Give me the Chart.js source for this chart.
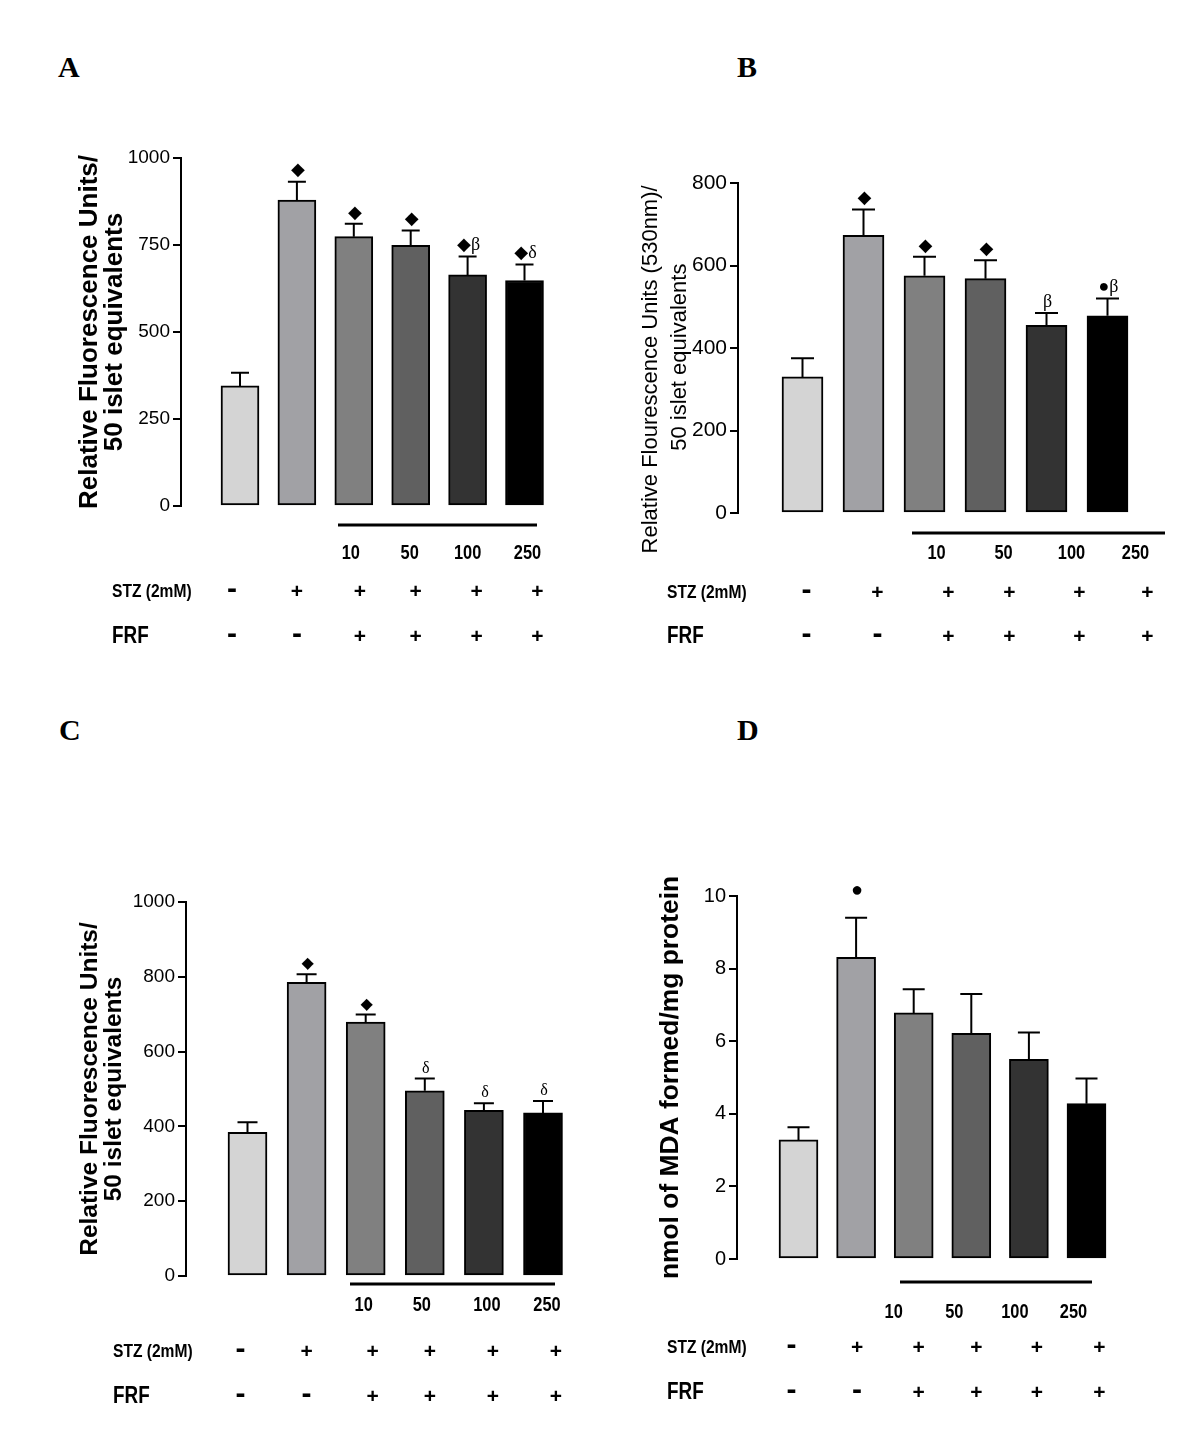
<!DOCTYPE html>
<html>
<head>
<meta charset="utf-8">
<script src="https://cdn.jsdelivr.net/npm/chart.js@4.4.1/dist/chart.umd.min.js"></script>
<style>
  html, body { margin: 0; padding: 0; background: #fff; }
  body { width: 1200px; height: 1432px; position: relative; overflow: hidden; }
  canvas { position: absolute; }
  .letter { position: absolute; font: bold 30px 'Liberation Serif', 'Times New Roman', serif; line-height: 30px; color: #000; }
</style>
</head>
<body>
<div class="letter" style="left:58px;top:52px">A</div>
<div class="letter" style="left:737px;top:52px">B</div>
<div class="letter" style="left:59px;top:715px">C</div>
<div class="letter" style="left:737px;top:715px">D</div>

<script>
// Data
const groups = ['Control', 'STZ', 'STZ+FRF 10', 'STZ+FRF 50', 'STZ+FRF 100', 'STZ+FRF 250'];
const doses = ['10', '50', '100', '250'];
const stzSigns = ['-', '+', '+', '+', '+', '+'];
const frfSigns = ['-', '-', '+', '+', '+', '+'];

const meanA = [345, 879, 774, 749, 664, 648];
const errA = [38, 53, 37, 43, 53, 46];
const sigA = ['', '◆', '◆', '◆', '◆β', '◆δ'];

const meanB = [330, 673, 575, 568, 455, 478];
const errB = [45, 63, 46, 45, 30, 42];
const sigB = ['', '◆', '◆', '◆', 'β', '●β'];

const meanC = [384, 785, 679, 495, 443, 436];
const errC = [27, 22, 20, 33, 19, 32];
const sigC = ['', '◆', '◆', 'δ', 'δ', 'δ'];

const meanD = [3.28, 8.31, 6.78, 6.22, 5.50, 4.28];
const errD = [0.35, 1.09, 0.65, 1.08, 0.74, 0.69];
const sigD = ['', '●', '', '', '', ''];

const barColors = ['#d4d4d4', '#a1a1a5', '#808080', '#606060', '#333333', '#000000'];

// Panel layout (page pixels)
const panels = [
  {
    id: 'A', mean: meanA, err: errA, sig: sigA, yMax: 1000, yStep: 250,
    title: ['Relative Fluorescence Units/', '50 islet equivalents'],
    titleFont: { family: 'Liberation Sans', size: 26, weight: 'bold', lineHeight: 0.96 },
    tickFont: { family: 'Liberation Sans', size: 19 },
    canvas: { left: 0, top: 120, w: 600, h: 540 },
    plot: { left: 181, top: 158, bottom: 506, right: 553 }, titleLeft: 77.5,
    c0: 240, sp: 56.9, barW: 38, cap: 18, sigGap: 11, sigSize: 18,
    underline: { x1: 338, x2: 537, y: 525 },
    rows: { labelX: 112, doseY: 553, stzY: 592, frfY: 637 },
    colDx: [-8, 0, 6, 5, 9, 13], doseDx: [-3, -1, 0, 3]
  },
  {
    id: 'B', mean: meanB, err: errB, sig: sigB, yMax: 800, yStep: 200,
    // trailing spaces push the centred title down, as in the original
    title: ['Relative Flourescence Units (530nm)/       ', '50 islet equivalents   '],
    titleFont: { family: 'Liberation Sans', size: 22, weight: 'normal', lineHeight: 1.32 },
    tickFont: { family: "'Liberation Sans Narrow', 'Liberation Sans'", size: 21 },
    canvas: { left: 600, top: 150, w: 600, h: 510 },
    plot: { left: 738, top: 183, bottom: 513, right: 1160 }, titleLeft: 636.5,
    c0: 802.5, sp: 61, barW: 41, cap: 23, sigGap: 11, sigSize: 18,
    underline: { x1: 912, x2: 1165, y: 533 },
    rows: { labelX: 667, doseY: 553, stzY: 593, frfY: 637 },
    colDx: [4, 14, 24, 24, 33, 40], doseDx: [12, 18, 25, 28]
  },
  {
    id: 'C', mean: meanC, err: errC, sig: sigC, yMax: 1000, yStep: 200,
    title: ['Relative Fluorescence Units/', '50 islet equivalents'],
    titleFont: { family: 'Liberation Sans', size: 24.5, weight: 'bold', lineHeight: 1.0 },
    tickFont: { family: 'Liberation Sans', size: 19 },
    canvas: { left: 0, top: 860, w: 600, h: 560 },
    plot: { left: 186, top: 902, bottom: 1276, right: 570 }, titleLeft: 77.75,
    c0: 247.5, sp: 59.1, barW: 39, cap: 20, sigGap: 10, sigSize: 16,
    underline: { x1: 350, x2: 555, y: 1284 },
    rows: { labelX: 113, doseY: 1305, stzY: 1352, frfY: 1397 },
    colDx: [-7, 0, 7, 5, 9, 13], doseDx: [-2, -3, 3, 4]
  },
  {
    id: 'D', mean: meanD, err: errD, sig: sigD, yMax: 10, yStep: 2,
    title: 'nmol of MDA formed/mg protein',
    titleFont: { family: 'Liberation Sans', size: 26.4, weight: 'bold', lineHeight: 1.2 },
    tickFont: { family: 'Liberation Sans', size: 20 },
    canvas: { left: 600, top: 850, w: 600, h: 570 },
    plot: { left: 737, top: 896, bottom: 1259, right: 1120 }, titleLeft: 655,
    c0: 798.5, sp: 57.6, barW: 39, cap: 22, sigGap: 27, sigSize: 20,
    underline: { x1: 900, x2: 1092, y: 1282 },
    rows: { labelX: 667, doseY: 1312, stzY: 1348, frfY: 1393 },
    colDx: [-7, 1, 5, 5, 8, 13], doseDx: [-20, -17, -14, -13]
  }
];

// condensed bold text, like the narrow face of the original
function narrowText(ctx, text, x, y, size, align) {
  ctx.save();
  ctx.font = `bold ${size}px 'Liberation Sans', Arial, sans-serif`;
  ctx.textAlign = align;
  ctx.textBaseline = 'middle';
  ctx.translate(x, y);
  ctx.scale(0.82, 1);
  ctx.fillText(text, 0, 0);
  ctx.restore();
}

function decorPlugin(p) {
  const ox = p.canvas.left, oy = p.canvas.top;
  return {
    id: 'decor' + p.id,
    afterDatasetsDraw(chart) {
      const { ctx, scales: { x, y } } = chart;
      ctx.save();
      ctx.strokeStyle = '#000';
      ctx.fillStyle = '#000';
      ctx.lineWidth = 2;
      p.mean.forEach((v, i) => {
        const cx = x.getPixelForValue(i);
        const yb = y.getPixelForValue(v);
        const yt = y.getPixelForValue(v + p.err[i]);
        ctx.beginPath();
        ctx.moveTo(cx, yb);
        ctx.lineTo(cx, yt);
        ctx.moveTo(cx - p.cap / 2, yt);
        ctx.lineTo(cx + p.cap / 2, yt);
        ctx.stroke();
        if (p.sig[i]) {
          ctx.font = `${p.sigSize}px 'Liberation Serif', 'DejaVu Sans', serif`;
          ctx.textAlign = 'center';
          ctx.textBaseline = 'middle';
          ctx.fillText(p.sig[i], cx + 1, yt - p.sigGap);
        }
      });
      ctx.restore();
    },
    afterDraw(chart) {
      const { ctx, scales: { x } } = chart;
      const r = p.rows;
      ctx.save();
      ctx.fillStyle = '#000';
      ctx.strokeStyle = '#000';
      // dose bracket line
      ctx.lineWidth = 3;
      ctx.beginPath();
      ctx.moveTo(p.underline.x1 - ox, p.underline.y - oy);
      ctx.lineTo(p.underline.x2 - ox, p.underline.y - oy);
      ctx.stroke();
      // dose labels under FRF groups
      doses.forEach((d, k) => {
        narrowText(ctx, d, x.getPixelForValue(k + 2) + p.doseDx[k], r.doseY - oy, 20, 'center');
      });
      narrowText(ctx, 'STZ (2mM)', r.labelX - ox, r.stzY - oy, 19, 'left');
      narrowText(ctx, 'FRF', r.labelX - ox, r.frfY - oy, 23, 'left');
      ctx.textAlign = 'center';
      ctx.textBaseline = 'middle';
      groups.forEach((g, i) => {
        const cx = x.getPixelForValue(i) + p.colDx[i];
        [[stzSigns[i], r.stzY], [frfSigns[i], r.frfY]].forEach(([s, yy]) => {
          ctx.font = s === '-'
            ? "bold 30px 'Liberation Sans', Arial, sans-serif"
            : "bold 21px 'Liberation Sans', Arial, sans-serif";
          ctx.fillText(s, cx, yy - oy - (s === '-' ? 2 : 0));
        });
      });
      ctx.restore();
    }
  };
}

panels.forEach(p => {
  const canvas = document.createElement('canvas');
  canvas.width = p.canvas.w;
  canvas.height = p.canvas.h;
  canvas.style.left = p.canvas.left + 'px';
  canvas.style.top = p.canvas.top + 'px';
  canvas.style.width = p.canvas.w + 'px';
  canvas.style.height = p.canvas.h + 'px';
  document.body.appendChild(canvas);

  const xMin = -(p.c0 - p.plot.left) / p.sp;
  const xMax = (p.plot.right - p.c0) / p.sp;

  new Chart(canvas, {
    type: 'bar',
    data: {
      labels: groups,
      datasets: [{
        data: p.mean.map((v, i) => ({ x: i, y: v })),
        backgroundColor: barColors,
        borderColor: '#000',
        borderWidth: 2,
        borderSkipped: false,
        barThickness: p.barW
      }]
    },
    options: {
      responsive: false,
      animation: false,
      devicePixelRatio: 1,
      layout: {
        padding: {
          left: p.titleLeft - p.canvas.left,
          top: p.plot.top - p.canvas.top,
          bottom: p.canvas.top + p.canvas.h - p.plot.bottom,
          right: p.canvas.left + p.canvas.w - p.plot.right
        }
      },
      plugins: { legend: { display: false }, tooltip: { enabled: false } },
      scales: {
        x: { type: 'linear', display: false, min: xMin, max: xMax, offset: false },
        y: {
          min: 0, max: p.yMax,
          afterFit(scale) { scale.width = p.plot.left - p.titleLeft; },
          ticks: { stepSize: p.yStep, color: '#000', font: p.tickFont, padding: 3, callback: v => String(v) },
          grid: { drawOnChartArea: false, drawTicks: true, tickLength: 8, color: '#000', lineWidth: 2 },
          border: { display: true, color: '#000', width: 2 },
          title: {
            display: true, text: p.title, color: '#000',
            font: p.titleFont, padding: { top: 0, bottom: 0 }
          }
        }
      }
    },
    plugins: [decorPlugin(p)]
  });
});
</script>
</body>
</html>
